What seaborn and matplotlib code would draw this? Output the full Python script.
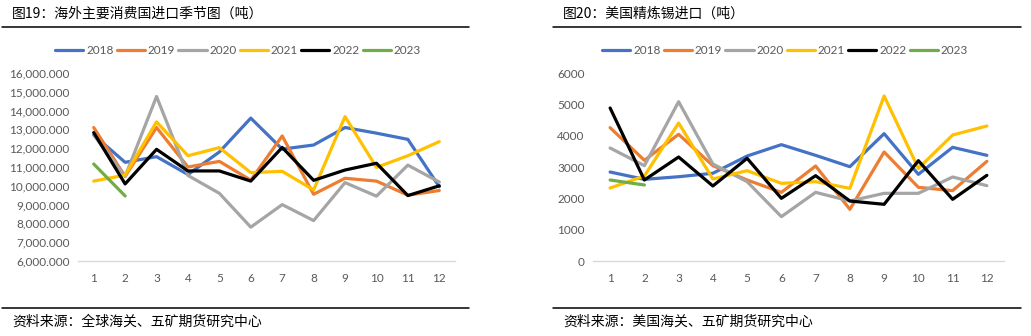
import matplotlib
matplotlib.use("Agg")
import matplotlib.pyplot as plt
import seaborn as sns
import pandas as pd
import numpy as np
from matplotlib.lines import Line2D
from matplotlib.ticker import FuncFormatter, MultipleLocator

sns.set_style("white")
plt.rcParams['font.family'] = ['Lato', 'Noto Sans CJK SC', 'DejaVu Sans']

months = list(range(1, 13))
years = ["2018", "2019", "2020", "2021", "2022", "2023"]
colors = ["#4472C4", "#ED7D31", "#A5A5A5", "#FFC000", "#000000", "#70AD47"]

# Chart 19: overseas main consumers imports (tonnes)
left_2018 = [12700, 11250, 11550, 10600, 11800, 13600, 11950, 12170, 13100, 12800, 12470, 9950]
left_2019 = [13100, 10500, 13100, 11000, 11300, 10300, 12650, 9550, 10400, 10250, 9500, 9750]
left_2020 = [12700, 10500, 14750, 10550, 9600, 7800, 9000, 8150, 10170, 9450, 11100, 10200]
left_2021 = [10250, 10570, 13400, 11600, 12030, 10700, 10770, 9780, 13680, 10980, 11600, 12350]
left_2022 = [12830, 10100, 11940, 10790, 10790, 10250, 12040, 10290, 10840, 11200, 9480, 10000]
left_2023 = [11160, 9460]

# Chart 20: US refined tin imports (tonnes)
right_2018 = [2840, 2606, 2690, 2800, 3350, 3713, 3372, 3010, 4064, 2766, 3628, 3372]
right_2019 = [4255, 3213, 4043, 3043, 2585, 2191, 3032, 1649, 3479, 2351, 2245, 3181]
right_2020 = [3606, 3043, 5085, 3096, 2532, 1415, 2191, 1915, 2160, 2160, 2681, 2404]
right_2021 = [2330, 2713, 4404, 2617, 2883, 2479, 2532, 2319, 5266, 2957, 4021, 4309]
right_2022 = [4883, 2585, 3319, 2394, 3277, 2000, 2723, 1915, 1809, 3202, 1968, 2734]
right_2023 = [2585, 2426]

left_title = "图19：海外主要消费国进口季节图（吨）"
right_title = "图20：美国精炼锡进口（吨）"
left_source = "资料来源：全球海关、五矿期货研究中心"
right_source = "资料来源：美国海关、五矿期货研究中心"


def to_long(series):
    rows = []
    for y, vals in zip(years, series):
        for m, v in zip(months, vals):
            rows.append({"month": m, "year": y, "value": v})
    return pd.DataFrame(rows)


df_left = to_long([left_2018, left_2019, left_2020, left_2021, left_2022, left_2023])
df_right = to_long([right_2018, right_2019, right_2020, right_2021, right_2022, right_2023])

W, H = 1031, 336
fig = plt.figure(figsize=(W / 100, H / 100), dpi=100)
fig.patch.set_facecolor("white")


def px_axes(x0, y0, w, h):
    return fig.add_axes([x0 / W, 1 - (y0 + h) / H, w / W, h / H])


def style_axes(ax, ylim, step, fmt):
    ax.set_xlim(0.5, 12.5)
    ax.set_ylim(*ylim)
    ax.yaxis.set_major_locator(MultipleLocator(step))
    ax.yaxis.set_major_formatter(FuncFormatter(fmt))
    ax.set_xticks(months)
    ax.set_xlabel("")
    ax.set_ylabel("")
    for s in ["top", "right", "left"]:
        ax.spines[s].set_visible(False)
    ax.spines["bottom"].set_color("#D9D9D9")
    ax.spines["bottom"].set_linewidth(1.0)
    ax.tick_params(axis="both", length=0, labelsize=8.5, colors="#595959")
    ax.tick_params(axis="y", pad=6)
    ax.tick_params(axis="x", pad=9)
    ax.grid(False)
    if ax.get_legend() is not None:
        ax.get_legend().remove()


pal = dict(zip(years, colors))

ax1 = px_axes(78, 73, 377, 188)
sns.lineplot(data=df_left, x="month", y="value", hue="year", palette=pal,
             hue_order=years, linewidth=2.3, ax=ax1, sort=False)
style_axes(ax1, (6000, 16000), 1000, lambda v, p: f"{v:,.3f}")

ax2 = px_axes(593, 73, 411, 188)
sns.lineplot(data=df_right, x="month", y="value", hue="year", palette=pal,
             hue_order=years, linewidth=2.3, ax=ax2, sort=False)
style_axes(ax2, (0, 6000), 1000, lambda v, p: f"{v:.0f}")

handles = [Line2D([0], [0], color=c, lw=2.3) for c in colors]
for cx in (238, 785):
    fig.legend(handles, years, loc="center", bbox_to_anchor=(cx / W, 1 - 51 / H),
               ncol=6, frameon=False, fontsize=8.5, handlelength=2.4,
               handletextpad=0.25, columnspacing=0.25, labelcolor="#595959")

cjk = ['Noto Sans CJK SC', 'DejaVu Sans']
fig.text(12 / W, 1 - 14 / H, left_title, fontsize=10, family=cjk, va="center", ha="left", color="black")
fig.text(563 / W, 1 - 14 / H, right_title, fontsize=10, family=cjk, va="center", ha="left", color="black")
fig.text(12 / W, 1 - 322 / H, left_source, fontsize=10, family=cjk, va="center", ha="left", color="black")
fig.text(563 / W, 1 - 322 / H, right_source, fontsize=10, family=cjk, va="center", ha="left", color="black")

for (xa, xb) in [(2, 469), (553, 1021)]:
    for yy in (27, 308):
        fig.add_artist(Line2D([xa / W, xb / W], [1 - yy / H, 1 - yy / H], color="black", lw=1.1))

fig.savefig("out.png", dpi=100, facecolor="white")
